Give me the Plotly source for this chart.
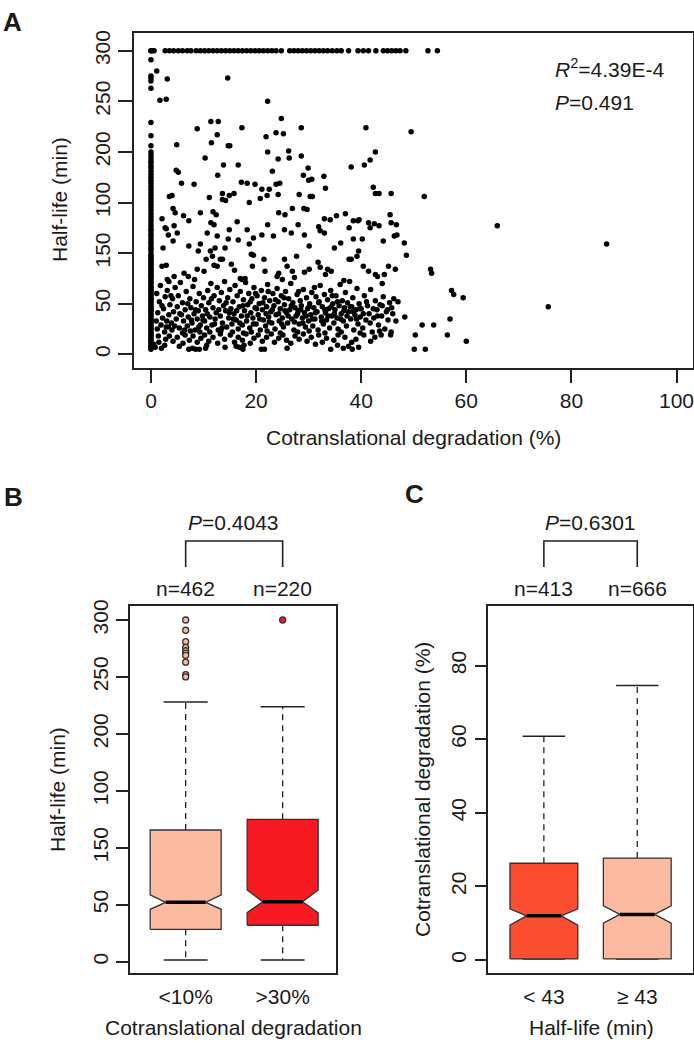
import plotly.graph_objects as go

# ======================= DATA =======================
# ---- Panel A: scatter (cotranslational degradation % vs half-life min) ----
# genes with 0 % cotranslational degradation (x = 0 column)
col0_halflife = [5, 6, 8, 9, 11, 13, 14, 16, 18, 19, 21, 23, 25, 26, 28, 30, 32, 34, 35, 37,
                 39, 41, 43, 44, 46, 48, 50, 52, 54, 55, 57, 59, 61, 63, 65, 66, 68, 70, 72, 74,
                 76, 78, 79, 81, 83, 85, 87, 89, 91, 93, 95, 97, 99, 102, 104, 106, 109, 111, 114, 117,
                 119, 122, 124, 127, 130, 133, 136, 139, 142, 145, 148, 151, 154, 157, 160, 163, 166, 169, 172, 175,
                 178, 181, 184, 186, 189, 191, 194, 197, 200, 206, 216, 229, 263, 270, 273, 275, 291, 300, 300]
# genes capped at half-life = 300 min
top_row_pct = [0.3, 0.6, 2.7, 3.5, 4.3, 5.2, 6.0, 6.9, 7.6, 8.6, 9.4, 10.2, 11.0, 11.8, 12.6, 13.4, 14.2,
               15.0, 15.8, 16.6, 17.4, 18.2, 19.0, 19.8, 20.6, 21.4, 22.2, 23.0, 23.8, 24.8, 26.4, 27.2,
               28.0, 28.8, 29.6, 30.4, 31.2, 32.0, 32.8, 33.6, 34.5, 35.4, 36.2, 37.6, 39.4, 40.4, 41.4,
               42.8, 44.2, 45.0, 45.8, 46.6, 47.4, 48.5, 52.7, 54.5]
top_row_halflife = 300
# remaining genes: (cotranslational degradation %, half-life min)
cloud_points = [
    # upper sparse region
    (1.1, 280), (3.1, 272), (1.7, 251), (2.9, 252), (4.9, 207), (8.8, 223), (11.4, 230), (12.8, 230),
    (12.6, 217), (11.5, 209), (15.0, 206), (14.6, 273), (22.2, 250), (24.8, 233), (17.3, 224), (28.6, 224),
    (40.9, 224), (49.5, 220), (23.8, 219), (25.2, 218), (21.9, 215), (14.7, 206), (22.2, 200), (42.7, 200),
    (26.2, 201), (28.6, 196), (10.3, 194), (24.2, 193), (26.3, 194), (41.7, 192), (16.6, 187), (13.8, 187),
    (40.6, 187), (38.1, 185), (29.9, 184), (4.8, 182), (5.2, 180), (23.1, 181), (12.7, 177), (29.0, 177),
    (30.6, 173), (32.9, 176), (5.8, 169), (8.2, 168), (17.2, 170), (19.8, 168), (21.1, 163), (22.5, 163),
    (23.8, 168), (24.5, 169), (33.2, 164), (42.3, 165), (42.7, 159), (43.4, 159), (45.7, 159), (52.0, 156),
    (13.6, 159), (30.3, 156), (3.5, 156), (4.0, 157), (18.3, 169), (30.0, 172),
    # 100 - 160
    (2.1, 134), (2.7, 125), (4.2, 144), (4.6, 140), (6.2, 137), (7.2, 132), (9.4, 140), (11.1, 155),
    (11.8, 141), (12.4, 138), (13.6, 153), (14.2, 152), (14.9, 157), (15.8, 159), (16.4, 131), (18.7, 150),
    (20.8, 154), (22.1, 157), (24.2, 158), (24.3, 140), (25.5, 138), (26.9, 144), (28.2, 158), (29.1, 144),
    (29.7, 143), (30.7, 156), (31.9, 126), (32.2, 122), (33.0, 134), (34.1, 133), (35.3, 137), (37.0, 139),
    (38.5, 132), (39.4, 132), (41.4, 130), (42.5, 129), (43.4, 127), (45.5, 138), (45.7, 130), (46.7, 128),
    (2.3, 105), (2.9, 124), (3.3, 118), (4.4, 127), (5.0, 120), (7.2, 107), (9.4, 109), (10.7, 120),
    (11.4, 130), (12.0, 128), (12.6, 117), (14.9, 123), (16.6, 113), (18.3, 123), (19.5, 115), (21.1, 118),
    (22.2, 128), (23.3, 117), (25.4, 123), (26.7, 120), (28.0, 128), (29.2, 118), (30.1, 107), (33.0, 120),
    (34.9, 105), (36.1, 110), (37.7, 125), (38.5, 114), (39.6, 133), (40.2, 114), (41.7, 125), (44.2, 112),
    (46.3, 117), (46.8, 118), (48.2, 110), (65.9, 127), (86.7, 109),
    # 74 - 100
    (2.1, 87), (2.9, 88), (3.1, 74), (3.4, 72), (4.2, 112), (6.3, 80), (7.1, 77), (8.8, 84), (9.0, 102),
    (10.1, 82), (10.5, 94), (11.3, 102), (11.7, 97), (12.2, 105), (12.0, 88), (12.6, 87), (13.2, 94),
    (13.6, 94), (14.1, 105), (14.7, 114), (15.3, 89), (15.9, 83), (17.0, 75), (17.3, 74), (17.9, 75),
    (18.7, 109), (19.1, 99), (19.5, 98), (19.3, 87), (21.5, 94), (21.7, 82), (24.0, 77), (24.3, 80),
    (25.0, 74), (25.4, 94), (25.9, 87), (26.9, 82), (27.7, 97), (29.2, 81), (30.1, 84), (31.8, 91),
    (32.2, 86), (33.2, 79), (33.6, 84), (34.3, 82), (37.7, 94), (38.1, 94), (39.2, 97), (39.5, 102),
    (40.4, 87), (41.4, 82), (42.7, 79), (43.1, 77), (44.4, 79), (45.2, 87), (46.5, 84), (48.6, 98),
    (53.2, 84), (53.4, 80), (57.2, 63), (57.6, 59), (59.4, 56), (75.6, 47),
    # dense region 20 - 75
    (1.0, 33), (1.3, 41), (1.6, 52), (1.1, 60), (1.8, 68), (2.2, 36), (2.4, 45), (2.7, 57), (2.9, 27),
    (3.1, 63), (3.4, 39), (3.6, 49), (3.9, 31), (4.1, 55), (4.3, 42), (4.6, 66), (4.8, 35), (5.0, 47),
    (5.2, 58), (5.4, 26), (5.6, 71), (5.8, 39), (6.0, 51), (6.2, 33), (6.5, 44), (6.7, 62), (6.9, 28),
    (7.1, 37), (7.4, 55), (7.6, 46), (7.8, 31), (8.0, 67), (8.2, 40), (8.4, 24), (8.6, 52), (8.8, 35),
    (9.0, 43), (9.2, 60), (9.4, 29), (9.6, 48), (9.8, 38), (10.0, 56), (10.2, 33), (10.4, 44), (10.6, 26),
    (10.8, 63), (11.0, 51), (11.2, 37), (11.4, 70), (11.6, 29), (11.8, 46), (12.0, 58), (12.2, 35),
    (12.4, 41), (12.6, 66), (12.8, 24), (13.0, 53), (13.2, 38), (13.4, 61), (13.6, 31), (13.8, 48),
    (14.0, 72), (14.2, 43), (14.4, 27), (14.6, 56), (14.8, 36), (15.0, 64), (15.2, 45), (15.4, 30),
    (15.6, 52), (15.8, 40), (16.0, 68), (16.2, 34), (16.4, 58), (16.6, 25), (16.8, 47), (17.0, 62),
    (17.2, 38), (17.4, 29), (17.6, 54), (17.8, 43), (18.0, 71), (18.2, 33), (18.4, 49), (18.6, 60),
    (18.8, 26), (19.0, 41), (19.2, 55), (19.4, 36), (19.6, 66), (19.8, 46), (20.0, 30), (20.2, 58),
    (20.4, 39), (20.6, 50), (20.8, 24), (21.0, 63), (21.2, 44), (21.4, 34), (21.6, 56), (21.8, 28),
    (22.0, 47), (22.2, 69), (22.4, 37), (22.6, 53), (22.8, 42), (23.0, 31), (23.2, 60), (23.4, 48),
    (23.6, 25), (23.8, 39), (24.0, 65), (24.2, 52), (24.4, 33), (24.6, 45), (24.8, 58), (25.0, 36),
    (25.2, 27), (25.4, 49), (25.6, 62), (25.8, 41), (26.0, 31), (26.2, 55), (26.4, 44), (26.6, 70),
    (26.8, 35), (27.0, 51), (27.2, 24), (27.4, 46), (27.6, 38), (27.8, 59), (28.0, 43), (28.2, 30),
    (28.4, 53), (28.6, 48), (28.8, 36), (29.0, 64), (29.2, 41), (29.4, 27), (29.6, 56), (29.8, 45),
    (30.0, 33), (30.2, 50), (30.4, 39), (30.6, 61), (30.8, 28), (31.0, 46), (31.2, 35), (31.4, 57),
    (31.6, 42), (31.8, 24), (32.0, 52), (32.2, 68), (32.4, 37), (32.6, 47), (32.8, 30), (33.0, 59),
    (33.2, 41), (33.4, 34), (33.6, 54), (33.8, 45), (34.0, 26), (34.2, 63), (34.4, 38), (34.6, 50),
    (34.8, 31), (35.0, 44), (35.2, 58), (35.4, 36), (35.6, 25), (35.8, 48), (36.0, 69), (36.2, 40),
    (36.4, 53), (36.6, 33), (36.8, 46), (37.0, 61), (37.2, 28), (37.4, 51), (37.6, 42), (37.8, 72),
    (38.0, 35), (38.2, 47), (38.4, 56), (38.6, 24), (38.8, 39), (39.0, 44), (39.2, 65), (39.4, 30),
    (39.6, 50), (39.8, 37), (40.0, 45), (40.3, 26), (40.6, 58), (40.9, 34), (41.2, 48), (41.5, 40),
    (41.8, 64), (42.1, 22), (42.4, 36), (42.7, 53), (43.0, 44), (43.3, 29), (43.6, 49), (43.9, 38),
    (44.2, 57), (44.5, 25), (44.8, 42), (45.1, 34), (45.4, 51), (45.8, 46), (46.2, 55), (46.6, 33),
    (47.0, 52), (4.4, 77), (8.3, 74), (27.3, 76), (36.7, 73), (44.0, 70),
    # extra points filling the densest part of the cloud
    (1.4, 18), (2.1, 48), (3.0, 33), (3.8, 58), (4.5, 28), (5.5, 40), (6.4, 24), (7.0, 50), (7.7, 34),
    (8.5, 44), (9.1, 27), (9.9, 34), (10.7, 40), (11.5, 55), (12.1, 30), (12.9, 44), (13.5, 26), (14.3, 51),
    (14.9, 41), (15.7, 35), (16.3, 43), (16.9, 31), (17.5, 48), (18.3, 38), (18.9, 52), (19.5, 30),
    (20.1, 45), (20.7, 35), (21.3, 51), (21.9, 40), (22.5, 32), (23.1, 44), (23.7, 54), (24.3, 40),
    (24.9, 30), (25.5, 43), (26.1, 38), (26.7, 48), (27.3, 32), (27.9, 40), (28.5, 44), (28.9, 31),
    (29.5, 38), (30.1, 47), (30.7, 35), (31.3, 41), (31.9, 51), (32.5, 33), (33.1, 44), (33.7, 38),
    (34.3, 47), (34.9, 40), (35.5, 52), (36.1, 35), (36.7, 43), (37.3, 38), (37.9, 47), (38.5, 42),
    (39.1, 35), (39.7, 45), (40.4, 40), (41.0, 52), (41.7, 31), (42.3, 45), (43.1, 38), (44.0, 48),
    (45.0, 44), (46.0, 40), (25.3, 56), (28.1, 62), (31.1, 66), (34.5, 58), (22.3, 62), (19.9, 60),
    # low region 5 - 20
    (0.5, 10), (0.8, 7), (2.0, 6), (2.6, 9), (5.4, 8), (7.2, 5), (7.9, 6), (8.5, 5), (9.2, 5), (10.4, 6),
    (10.6, 9), (14.1, 7), (16.2, 8), (16.8, 7), (17.5, 5), (17.7, 9), (21.0, 5), (21.6, 5), (25.9, 6),
    (31.3, 10), (34.2, 5), (35.5, 9), (36.6, 6), (37.6, 8), (38.3, 5), (39.5, 7), (50.1, 5), (52.2, 5),
    (60.0, 13), (1.5, 12), (2.8, 15), (3.5, 18), (4.2, 13), (5.0, 17), (6.1, 11), (6.5, 19), (7.3, 14),
    (8.0, 18), (8.8, 12), (9.5, 16), (10.2, 19), (11.0, 13), (11.8, 17), (12.7, 11), (13.2, 20), (14.0, 15),
    (15.1, 19), (15.9, 12), (16.6, 17), (17.4, 14), (18.1, 20), (18.9, 11), (19.6, 16), (20.4, 19),
    (21.2, 13), (22.0, 17), (22.9, 20), (23.5, 12), (24.3, 16), (25.1, 19), (25.8, 14), (26.6, 11),
    (27.4, 18), (28.2, 15), (29.0, 20), (29.7, 13), (30.5, 17), (31.9, 19), (32.6, 12), (33.4, 16),
    (34.8, 14), (35.6, 19), (36.9, 17), (38.2, 12), (39.0, 15), (40.5, 19), (41.8, 13), (42.6, 17),
    (43.8, 19), (45.6, 19), (50.3, 19), (56.4, 19), (48.3, 37), (51.6, 29), (53.8, 29), (56.9, 35),
    (1.2, 25), (1.9, 29), (2.6, 22), (3.3, 27), (4.0, 24), (6.0, 21), (7.5, 23), (9.3, 22), (11.2, 22),
    (13.3, 23), (15.5, 22), (17.6, 21), (19.1, 22), (22.1, 23), (24.6, 21), (27.9, 22), (30.1, 23),
    (33.1, 21), (36.2, 22), (39.8, 21), (43.5, 23), (45.7, 22),
]
r2_text = "4.39E-4"
p_scatter = "0.491"

# half-life axis tick labels (as printed in the figure)
hl_tickvals = [0, 50, 100, 150, 200, 250, 300]
hl_ticktext = ["0", "50", "150", "100", "200", "250", "300"]
pct_tickvals = [0, 20, 40, 60, 80, 100]

# ---- Panel B: half-life by cotranslational degradation group ----
b_groups = ["<10%", ">30%"]
b_n = [462, 220]
b_q1 = [28.4, 32.0]
b_median = [52.1, 52.7]
b_q3 = [115.6, 125.0]
b_notch_lo = [46.0, 43.0]
b_notch_hi = [58.6, 63.0]
b_lower = [1.5, 1.5]
b_upper = [227.9, 223.8]
b_outliers = [[300, 291, 281, 276, 273, 271, 269, 263, 252, 250], [300]]
b_colors = ["#FCBBA1", "#F81A22"]
b_p = "0.4043"

# ---- Panel C: cotranslational degradation by half-life group ----
c_groups = ["< 43", "≥ 43"]
c_n = [413, 666]
c_q1 = [0.3, 0.3]
c_median = [12.0, 12.4]
c_q3 = [26.3, 27.7]
c_notch_lo = [9.5, 10.0]
c_notch_hi = [13.9, 14.7]
c_lower = [0.3, 0.3]
c_upper = [60.8, 74.6]
c_colors = ["#FC4E32", "#FCBBA1"]
c_p = "0.6301"

# ======================= FIGURE =======================
W, H = 694, 1043
FONT = "Liberation Sans, Arial, Helvetica, sans-serif"
TXT = "#1a1a1a"
LINE = "#222222"
FS = 21


def px(x):
    return x / W


def py(y):
    return 1 - y / H


fig = go.Figure()

# ---- Panel A points ----
ax = [0.0] * len(col0_halflife) + top_row_pct + [p[0] for p in cloud_points]
ay = col0_halflife + [top_row_halflife] * len(top_row_pct) + [p[1] for p in cloud_points]
fig.add_trace(go.Scatter(x=ax, y=ay, mode="markers", xaxis="x", yaxis="y",
                         marker=dict(size=5.5, color="black", line=dict(width=0)),
                         hoverinfo="skip", showlegend=False))


def add_box(xa, ya, xc, q1, med, q3, nlo, nhi, lo, hi, color, hw, nw, cw):
    # whiskers (dashed)
    for a, b in ((q3, hi), (q1, lo)):
        fig.add_trace(go.Scatter(x=[xc, xc], y=[a, b], mode="lines", xaxis=xa, yaxis=ya,
                                 line=dict(color=LINE, width=1.3, dash="6px,5px"),
                                 hoverinfo="skip", showlegend=False))
    # caps
    for v in (hi, lo):
        fig.add_trace(go.Scatter(x=[xc - cw, xc + cw], y=[v, v], mode="lines", xaxis=xa, yaxis=ya,
                                 line=dict(color=LINE, width=1.5),
                                 hoverinfo="skip", showlegend=False))
    # notched box
    xs = [xc - hw, xc - hw, xc - nw, xc - hw, xc - hw, xc + hw, xc + hw, xc + nw, xc + hw, xc + hw, xc - hw]
    ys = [q1, nlo, med, nhi, q3, q3, nhi, med, nlo, q1, q1]
    fig.add_trace(go.Scatter(x=xs, y=ys, mode="lines", fill="toself", fillcolor=color,
                             xaxis=xa, yaxis=ya, line=dict(color="#333333", width=1.3),
                             hoverinfo="skip", showlegend=False))
    # median
    fig.add_trace(go.Scatter(x=[xc - nw, xc + nw], y=[med, med], mode="lines", xaxis=xa, yaxis=ya,
                             line=dict(color="black", width=3.5),
                             hoverinfo="skip", showlegend=False))


for i in range(2):
    add_box("x2", "y2", i + 1, b_q1[i], b_median[i], b_q3[i], b_notch_lo[i], b_notch_hi[i],
            b_lower[i], b_upper[i], b_colors[i], 0.366, 0.206, 0.227)
    fig.add_trace(go.Scatter(x=[i + 1] * len(b_outliers[i]), y=b_outliers[i], mode="markers",
                             xaxis="x2", yaxis="y2",
                             marker=dict(size=6, color=b_colors[i], line=dict(color="#333333", width=1.3)),
                             hoverinfo="skip", showlegend=False))
    add_box("x3", "y3", i + 1, c_q1[i], c_median[i], c_q3[i], c_notch_lo[i], c_notch_hi[i],
            c_lower[i], c_upper[i], c_colors[i], 0.363, 0.186, 0.227)

axis_common = dict(showline=True, mirror=True, linecolor=LINE, linewidth=1.6, showgrid=False,
                   zeroline=False, automargin=False, tickfont=dict(family=FONT, size=FS, color=TXT),
                   tickcolor=LINE, tickwidth=1.6, ticklabeloverflow="allow")

fig.update_layout(
    width=W, height=H, margin=dict(l=0, r=0, t=0, b=0), autosize=False,
    paper_bgcolor="white", plot_bgcolor="white", showlegend=False,
    font=dict(family=FONT, size=FS, color=TXT),
    xaxis=dict(domain=[px(134), px(693)], range=[-3.23, 103.14], tickvals=pct_tickvals,
               ticktext=[str(v) for v in pct_tickvals],
               ticks="outside", ticklen=13, anchor="y", **axis_common),
    yaxis=dict(domain=[py(368), py(33)], range=[-13.5, 317.5], tickvals=hl_tickvals, ticktext=hl_ticktext,
               ticks="outside", ticklen=14, tickangle=-90, anchor="x", **axis_common),
    xaxis2=dict(domain=[px(130), px(336)], range=[0.426, 2.55], tickvals=[1, 2], ticktext=b_groups,
                ticks="", ticklabelstandoff=4, anchor="y2", **axis_common),
    yaxis2=dict(domain=[py(973.3), py(606)], range=[-10.2, 312.3], tickvals=hl_tickvals, ticktext=hl_ticktext,
                ticks="outside", ticklen=12, tickangle=-90, anchor="x2", **axis_common),
    xaxis3=dict(domain=[px(488.3), px(693.3)], range=[0.405, 2.60], tickvals=[1, 2], ticktext=c_groups,
                ticks="", ticklabelstandoff=4, anchor="y3", **axis_common),
    yaxis3=dict(domain=[py(973.3), py(606)], range=[-3.61, 96.2], tickvals=[0, 20, 40, 60, 80],
                ticks="outside", ticklen=12, tickangle=-90, anchor="x3", **axis_common),
)

ann = []


def text(x, y, s, size=FS, angle=0, xanchor="center", bold=False, xref="paper"):
    ann.append(dict(x=x, y=y, xref=xref, yref="paper", text=("<b>%s</b>" % s) if bold else s,
                    showarrow=False, textangle=angle, xanchor=xanchor, yanchor="middle",
                    font=dict(family=FONT, size=size, color=TXT)))


# panel letters
text(px(12), py(22), "A", size=26, bold=True)
text(px(13), py(497), "B", size=26, bold=True)
text(px(414), py(494), "C", size=26, bold=True)

# panel A texts
text(px(553), py(68), "<i>R</i><sup>2</sup>=" + r2_text, xanchor="left")
text(px(553), py(102), "<i>P</i>=" + p_scatter, xanchor="left")
text(px(59), py(200), "Half-life (min)", angle=-90)
text(px(413), py(437), "Cotranslational degradation (%)")

# panel B texts
text(px(233), py(522), "<i>P</i>=" + b_p)
for i in range(2):
    text(i + 1, py(588), "n=%d" % b_n[i], xref="x2")
text(px(57), py(790), "Half-life (min)", angle=-90)
text(px(233), py(1027), "Cotranslational degradation")

# panel C texts
text(px(590), py(522), "<i>P</i>=" + c_p)
for i in range(2):
    text(i + 1, py(588), "n=%d" % c_n[i], xref="x3")
text(px(422), py(790), "Cotranslational degradation (%)", angle=-90)
text(px(591), py(1027), "Half-life (min)")

fig.update_layout(annotations=ann)

# brackets
shapes = []
for xr, in (("x2",), ("x3",)):
    shapes.append(dict(type="path", xref=xr, yref="paper",
                       path="M 1 %f L 1 %f L 2 %f L 2 %f" % (py(567), py(541), py(541), py(567)),
                       line=dict(color=LINE, width=1.6)))
fig.update_layout(shapes=shapes)

fig.write_html("out.html", config={"displayModeBar": False},
               post_script="document.body.style.margin='0';document.body.style.overflow='hidden';")
